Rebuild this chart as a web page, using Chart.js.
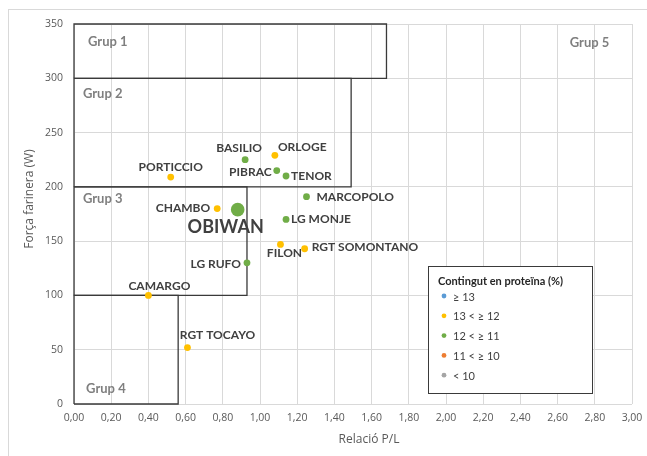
<!DOCTYPE html>
<html lang="ca">
<head>
<meta charset="UTF-8">
<title>Força farinera i relació P/L</title>
<style>
  html, body { margin: 0; padding: 0; background: #fff; }
  #wrap { width: 647px; height: 456px; position: relative; }
</style>
</head>
<body>
<div id="wrap"><canvas id="chart"></canvas></div>
<script src="https://cdn.jsdelivr.net/npm/chart.js"></script>
<script>
// varieties with protein 13 < >= 12
const yellowNames = ['PORTICCIO', 'ORLOGE', 'CHAMBO', 'FILON', 'RGT SOMONTANO', 'CAMARGO', 'RGT TOCAYO'];
const yellowPL = [0.52, 1.08, 0.77, 1.11, 1.24, 0.40, 0.61];
const yellowW = [209, 229, 180, 147, 143, 100, 52];

// varieties with protein 12 < >= 11
const greenNames = ['BASILIO', 'PIBRAC', 'TENOR', 'MARCOPOLO', 'LG MONJE', 'LG RUFO', 'OBIWAN'];
const greenPL = [0.92, 1.09, 1.14, 1.25, 1.14, 0.93, 0.88];
const greenW = [225, 215, 210, 191, 170, 130, 179];

const proteinClasses = ['≥ 13', '13 < ≥ 12', '12 < ≥ 11', '11 < ≥ 10', '< 10'];
const proteinColors = ['#5B9BD5', '#FFC000', '#70AD47', '#ED7D31', '#A5A5A5'];

// quality groups: box from x=0 to groupMaxPL, between groupMinW and groupMaxW
const groupNames = ['Grup 1', 'Grup 2', 'Grup 3', 'Grup 4'];
const groupMaxPL = [1.68, 1.49, 0.93, 0.56];
const groupMinW = [300, 200, 100, 0];
const groupMaxW = [350, 300, 200, 100];
// where the group names sit (data coords, left/middle of text)
const groupLabelPL = [0.075, 0.048, 0.048, 0.065, 2.665];
const groupLabelW = [334, 286, 189, 14, 333];

const xTicks = [0, 0.2, 0.4, 0.6, 0.8, 1.0, 1.2, 1.4, 1.6, 1.8, 2.0, 2.2, 2.4, 2.6, 2.8, 3.0];
const yTicks = [0, 50, 100, 150, 200, 250, 300, 350];

const labelFont = 'Lato, "DejaVu Sans", sans-serif';
const tickFont = '"Open Sans", sans-serif';

// label placement around each point: [textAlign, dx, dy]
const labelPlace = {
  'PORTICCIO': ['center', 0, -10],
  'BASILIO': ['center', -6, -12],
  'ORLOGE': ['left', 3, -8],
  'PIBRAC': ['right', -5, 2],
  'TENOR': ['left', 5, 0],
  'MARCOPOLO': ['left', 10, 0],
  'CHAMBO': ['right', -7, 0],
  'OBIWAN': ['center', -12, 18],
  'LG MONJE': ['left', 5, 0],
  'FILON': ['center', 4, 9],
  'RGT SOMONTANO': ['left', 7, -2],
  'LG RUFO': ['right', -6, 1],
  'CAMARGO': ['center', 11, -9],
  'RGT TOCAYO': ['center', 30, -12]
};

function toPoints(xs, ys) {
  return xs.map((x, i) => ({ x: x, y: ys[i] }));
}

const datasets = [];

groupNames.forEach((g, i) => {
  datasets.push({
    label: g,
    data: [
      { x: 0, y: groupMinW[i] },
      { x: groupMaxPL[i], y: groupMinW[i] },
      { x: groupMaxPL[i], y: groupMaxW[i] },
      { x: 0, y: groupMaxW[i] },
      { x: 0, y: groupMinW[i] }
    ],
    showLine: true,
    borderColor: '#3a3a3a',
    borderWidth: 1.3,
    pointRadius: 0,
    fill: false,
    clip: 2,
    order: 5
  });
});

const classData = [[], toPoints(yellowPL, yellowW), toPoints(greenPL, greenW), [], []];
const classNames = [[], yellowNames, greenNames, [], []];

proteinClasses.forEach((c, i) => {
  datasets.push({
    label: c,
    names: classNames[i],
    data: classData[i],
    backgroundColor: proteinColors[i],
    borderColor: proteinColors[i],
    pointRadius: classNames[i].map(n => n === 'OBIWAN' ? 6.8 : 3.4),
    pointBorderWidth: 0,
    order: 1
  });
});

const decorPlugin = {
  id: 'decor',
  beforeDraw(chart) {
    const ctx = chart.ctx;
    ctx.save();
    ctx.strokeStyle = '#d9d9d9';
    ctx.lineWidth = 1;
    ctx.strokeRect(8.5, 9.5, 700, 500);
    ctx.restore();
  },
  afterDraw(chart) {
    const ctx = chart.ctx;
    const xs = chart.scales.x, ys = chart.scales.y;
    ctx.save();

    // axis titles
    ctx.fillStyle = '#595959';
    ctx.font = '12px ' + tickFont;
    ctx.textAlign = 'center';
    ctx.textBaseline = 'middle';
    ctx.fillText('Relació P/L', xs.getPixelForValue(1.5) + 16, 440);
    ctx.save();
    ctx.translate(30, ys.getPixelForValue(175) - 15);
    ctx.rotate(-Math.PI / 2);
    ctx.fillText('Força farinera (W)', 0, 0);
    ctx.restore();

    // group names
    ctx.fillStyle = '#7f7f7f';
    ctx.font = 'bold 13px ' + labelFont;
    ctx.textAlign = 'left';
    ['Grup 1', 'Grup 2', 'Grup 3', 'Grup 4', 'Grup 5'].forEach((g, i) => {
      ctx.fillText(g, xs.getPixelForValue(groupLabelPL[i]), ys.getPixelForValue(groupLabelW[i]));
    });

    // point labels
    chart.data.datasets.forEach((ds, di) => {
      if (!ds.names) return;
      const meta = chart.getDatasetMeta(di);
      ds.names.forEach((n, i) => {
        const el = meta.data[i];
        const p = labelPlace[n];
        ctx.fillStyle = '#404040';
        ctx.font = (n === 'OBIWAN' ? 'bold 18px ' : 'bold 12px ') + labelFont;
        ctx.textAlign = p[0];
        ctx.fillText(n, el.x + p[1], el.y + p[2]);
      });
    });

    // legend box
    const lx = Math.round(xs.getPixelForValue(1.903)), ly = Math.round(ys.getPixelForValue(127));
    const lw = 164, lh = 127;
    ctx.fillStyle = '#ffffff';
    ctx.fillRect(lx, ly, lw, lh);
    ctx.strokeStyle = '#3a3a3a';
    ctx.lineWidth = 1;
    ctx.strokeRect(lx + 0.5, ly + 0.5, lw, lh);
    ctx.fillStyle = '#262626';
    ctx.font = 'bold 11px ' + labelFont;
    ctx.textAlign = 'left';
    ctx.fillText('Contingut en proteïna (%)', lx + 10, ly + 15);
    ctx.font = '11px ' + labelFont;
    chart.data.datasets.filter(d => d.names).forEach((d, i) => {
      const yy = ly + 30 + i * 19.8;
      ctx.fillStyle = d.backgroundColor;
      ctx.beginPath();
      ctx.arc(lx + 16, yy, 2.4, 0, Math.PI * 2);
      ctx.fill();
      ctx.fillStyle = '#404040';
      ctx.fillText(d.label, lx + 25, yy + 1);
    });
    ctx.restore();
  }
};

new Chart(document.getElementById('chart'), {
  type: 'scatter',
  data: { datasets: datasets },
  options: {
    responsive: true,
    maintainAspectRatio: false,
    animation: false,
    layout: { padding: { left: 0, right: 15, top: 24, bottom: 0 } },
    plugins: {
      legend: { display: false },
      tooltip: { enabled: false }
    },
    scales: {
      x: {
        type: 'linear',
        min: 0,
        max: 3,
        afterBuildTicks: s => { s.ticks = xTicks.map(v => ({ value: v })); },
        afterFit: s => { s.height = 52; s.paddingLeft = 0; s.paddingRight = 0; },
        ticks: {
          padding: 8,
          color: '#595959',
          font: { family: tickFont, size: 10.5 },
          maxRotation: 0,
          callback: v => v.toFixed(2).replace('.', ',')
        },
        grid: { color: '#d9d9d9', drawTicks: false },
        border: { display: false }
      },
      y: {
        type: 'linear',
        min: 0,
        max: 350,
        afterBuildTicks: s => { s.ticks = yTicks.map(v => ({ value: v })); },
        afterFit: s => { s.width = 74; },
        ticks: {
          padding: 11,
          color: '#595959',
          font: { family: tickFont, size: 10.5 }
        },
        grid: { color: '#d9d9d9', drawTicks: false },
        border: { display: false }
      }
    }
  },
  plugins: [decorPlugin]
});
</script>
</body>
</html>
